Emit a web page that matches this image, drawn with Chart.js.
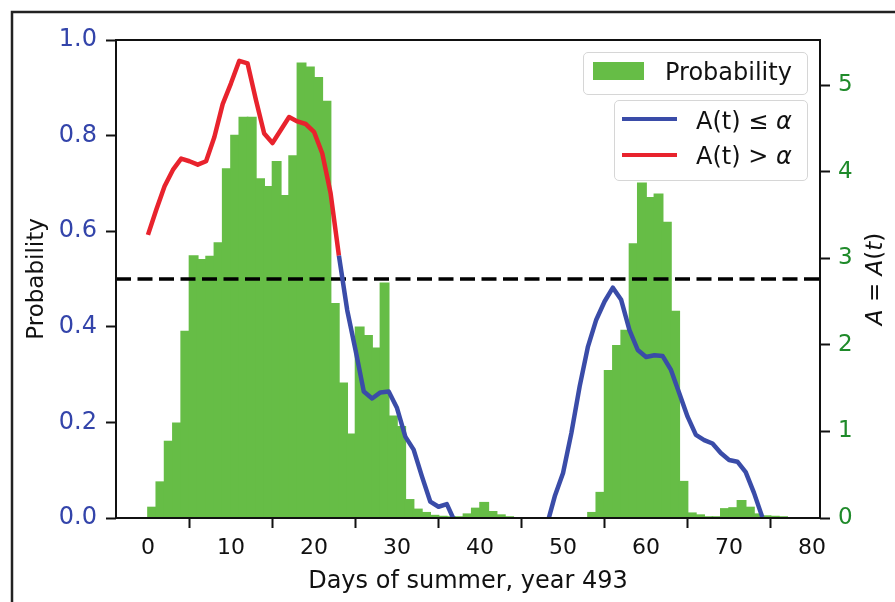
<!DOCTYPE html>
<html>
<head>
<meta charset="utf-8">
<script src="https://cdn.jsdelivr.net/npm/chart.js@4.4.1/dist/chart.umd.min.js"></script>
<style>
    body { margin: 0; background: #fff; }
    #wrap { position: relative; width: 895px; height: 602px; font-family: 'DejaVu Sans', sans-serif; }
    .box { position: absolute; box-sizing: border-box; background: rgba(255, 255, 255, 0.85); border: 1.5px solid #d6d6d6; border-radius: 5px; }
    .txt { position: absolute; font-size: 24px; line-height: 28px; color: #111; white-space: nowrap; }
    .mark { position: absolute; }
</style>
</head>
<body>
<div id="wrap">
    <canvas id="chart" width="895" height="602"></canvas>

    <div class="box" style="left:583px; top:52px; width:225px; height:43px;"></div>
    <div class="mark" style="left:593px; top:62px; width:51px; height:18px; background:#66bd46;"></div>
    <div class="txt" style="left:665px; top:58px;">Probability</div>

    <div class="box" style="left:614px; top:100px; width:194px; height:81px;"></div>
    <div class="mark" style="left:622px; top:117px; width:55px; height:4px; background:#3a4ca8;"></div>
    <div class="txt" style="left:696px; top:107px;">A(t) ≤ <i>α</i></div>
    <div class="mark" style="left:622px; top:153px; width:55px; height:4px; background:#e8232d;"></div>
    <div class="txt" style="left:696px; top:142px;">A(t) &gt; <i>α</i></div>
</div>

<script>
// histogramme journalier (un bac par jour, à partir du jour 0)
const probability = [
    0.022, 0.075, 0.160, 0.198, 0.390, 0.548, 0.540, 0.547, 0.575, 0.730,
    0.800, 0.838, 0.838, 0.709, 0.693, 0.745, 0.674, 0.757, 0.951, 0.943,
    0.921, 0.871, 0.448, 0.282, 0.175, 0.399, 0.381, 0.355, 0.491, 0.213,
    0.191, 0.038, 0.018, 0.011, 0.005, 0.003, 0.002, 0.002, 0.008, 0.020,
    0.032, 0.013, 0.006, 0.002, 0, 0, 0, 0, 0, 0,
    0, 0, 0, 0.011, 0.053, 0.308, 0.360, 0.392, 0.573, 0.700,
    0.670, 0.677, 0.618, 0.432, 0.076, 0.010, 0.006, 0.002, 0.002, 0.019,
    0.021, 0.036, 0.022, 0.008, 0.004, 0.003, 0.002
];

// A(t) par jour, null là où la courbe passe sous l'axe
const aValues = [
    3.27, 3.56, 3.83, 4.02, 4.15, 4.12, 4.08, 4.12, 4.40, 4.78,
    5.02, 5.28, 5.25, 4.83, 4.44, 4.33, 4.48, 4.63, 4.58, 4.55,
    4.46, 4.21, 3.75, 3.03, 2.40, 1.94, 1.46, 1.38, 1.45, 1.46,
    1.27, 0.94, 0.79, 0.48, 0.19, 0.13, 0.16, -0.05, null, null,
    null, null, null, null, null, null, null, null, -0.10, 0.25,
    0.52, 0.98, 1.52, 1.98, 2.29, 2.50, 2.66, 2.52, 2.17, 1.94,
    1.86, 1.88, 1.87, 1.71, 1.44, 1.17, 0.96, 0.90, 0.86, 0.75,
    0.67, 0.65, 0.53, 0.29, 0.01
];

const xTicks = [0, 10, 20, 30, 40, 50, 60, 70, 80];
const probTicks = [0, 0.2, 0.4, 0.6, 0.8, 1.0];
const aTicks = [0, 1, 2, 3, 4, 5];

const probThreshold = 0.5;
const alphaLevel = 3;

const green = '#66bd46';
const blue = '#3a4ca8';
const red = '#e8232d';

Chart.defaults.font.family = "'DejaVu Sans', sans-serif";
Chart.defaults.color = '#111';

const decorPlugin = {
    id: 'decor',
    beforeDraw(chart) {
        const ctx = chart.ctx;
        ctx.save();
        ctx.fillStyle = '#fff';
        ctx.fillRect(0, 0, chart.width, chart.height);
        // cadre de la figure
        ctx.strokeStyle = '#222';
        ctx.lineWidth = 2.5;
        ctx.beginPath();
        ctx.moveTo(12, chart.height);
        ctx.lineTo(12, 12);
        ctx.lineTo(chart.width, 12);
        ctx.stroke();
        ctx.restore();
    },
    afterDatasetDraw(chart, args) {
        if (args.index !== 1) return;
        // ligne de seuil en tirets, par-dessus les barres
        const ctx = chart.ctx;
        const area = chart.chartArea;
        const y = chart.scales.y.getPixelForValue(probThreshold);
        ctx.save();
        ctx.strokeStyle = '#000';
        ctx.lineWidth = 3.5;
        ctx.setLineDash([15, 6.5]);
        ctx.beginPath();
        ctx.moveTo(area.left, y);
        ctx.lineTo(area.right, y);
        ctx.stroke();
        ctx.restore();
    },
    afterDraw(chart) {
        const ctx = chart.ctx;
        const area = chart.chartArea;
        ctx.save();
        ctx.strokeStyle = '#111';
        ctx.lineWidth = 2;
        ctx.strokeRect(area.left, area.top, area.right - area.left, area.bottom - area.top);

        // titre de l'axe de droite, écrit de bas en haut
        const parts = [['A', true], [' = ', false], ['A', true], ['(', false], ['t', true], [')', false]];
        const size = 23;
        const fontOf = it => (it ? 'italic ' : '') + size + "px 'DejaVu Sans'";
        let total = 0;
        parts.forEach(p => { ctx.font = fontOf(p[1]); total += ctx.measureText(p[0]).width; });
        ctx.translate(876, (area.top + area.bottom) / 2);
        ctx.rotate(-Math.PI / 2);
        ctx.fillStyle = '#111';
        ctx.textBaseline = 'middle';
        let x = -total / 2;
        parts.forEach(p => {
            ctx.font = fontOf(p[1]);
            ctx.fillText(p[0], x, 0);
            x += ctx.measureText(p[0]).width;
        });
        ctx.restore();
    }
};

const tickGrid = {
    drawOnChartArea: false,
    drawTicks: true,
    tickLength: 10,
    tickWidth: 2,
    tickColor: '#111'
};

new Chart(document.getElementById('chart'), {
    type: 'bar',
    data: {
        datasets: [
            {
                type: 'line',
                label: 'A(t)',
                data: aValues.map((v, i) => ({ x: i, y: v })),
                yAxisID: 'y1',
                borderWidth: 4.5,
                pointRadius: 0,
                tension: 0,
                spanGaps: false,
                clip: 0,
                borderJoinStyle: 'round',
                borderColor: blue,
                segment: {
                    borderColor: c => (c.p0.parsed.y > alphaLevel && c.p1.parsed.y > alphaLevel) ? red : blue
                },
                order: 1
            },
            {
                type: 'bar',
                label: 'Probability',
                data: probability.map((p, i) => ({ x: i + 0.5, y: p })),
                yAxisID: 'y',
                backgroundColor: green,
                borderWidth: 0,
                inflateAmount: 0.8,
                barPercentage: 1,
                categoryPercentage: 1,
                grouped: false,
                order: 2
            }
        ]
    },
    options: {
        responsive: false,
        devicePixelRatio: 1,
        animation: false,
        layout: { padding: { top: 40, left: 0, right: 0, bottom: 0 } },
        plugins: {
            legend: { display: false },
            tooltip: { enabled: false }
        },
        scales: {
            x: {
                type: 'linear',
                min: -3.85,
                max: 80.95,
                offset: false,
                grid: tickGrid,
                border: { display: false },
                afterBuildTicks: s => { s.ticks = xTicks.map(v => ({ value: v })); },
                afterFit: s => { s.height = 84; },
                ticks: {
                    font: { size: 22 },
                    color: '#111',
                    padding: 7,
                    maxRotation: 0,
                    callback: v => String(v)
                },
                title: {
                    display: true,
                    text: 'Days of summer, year 493',
                    font: { size: 24 },
                    color: '#111',
                    padding: { top: 0, bottom: 6 }
                }
            },
            y: {
                position: 'left',
                min: 0,
                max: 1,
                grid: tickGrid,
                border: { display: false },
                afterBuildTicks: s => { s.ticks = probTicks.map(v => ({ value: v })); },
                afterFit: s => { s.width = 116; },
                ticks: {
                    font: { size: 24 },
                    color: '#3344aa',
                    padding: 9,
                    callback: v => v.toFixed(1)
                },
                title: {
                    display: true,
                    text: 'Probability',
                    font: { size: 23 },
                    color: '#111',
                    padding: { top: 23, bottom: 0 }
                }
            },
            y1: {
                position: 'right',
                min: 0,
                max: 5.52,
                grid: tickGrid,
                border: { display: false },
                afterBuildTicks: s => { s.ticks = aTicks.map(v => ({ value: v })); },
                afterFit: s => { s.width = 75; },
                ticks: {
                    font: { size: 23 },
                    color: '#1f8a2a',
                    padding: 8,
                    callback: v => String(v)
                }
            }
        }
    },
    plugins: [decorPlugin]
});
</script>
</body>
</html>
